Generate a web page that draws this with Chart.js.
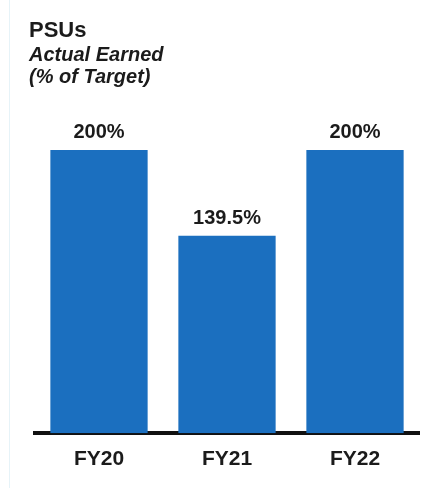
<!DOCTYPE html>
<html lang="en">
<head>
<meta charset="UTF-8">
<title>PSUs Actual Earned</title>
<script src="https://cdn.jsdelivr.net/npm/chart.js"></script>
<style>
    html, body {
        margin: 0;
        padding: 0;
        background: #ffffff;
    }
    .wrap {
        position: relative;
        width: 434px;
        height: 488px;
    }
    .wrap::before {
        content: "";
        position: absolute;
        left: 9px;
        top: 0;
        bottom: 0;
        border-left: 1px solid #e6f3f8;
    }
</style>
</head>
<body>
<div class="wrap">
    <canvas id="chart" width="434" height="488"></canvas>
</div>
<script>
    var categories = ["FY20", "FY21", "FY22"];
    var earned = [200, 139.5, 200];
    var valueLabels = ["200%", "139.5%", "200%"];

    var FONT = "'Liberation Sans', Arial, sans-serif";
    var INK = "#1b1b1b";

    // value labels above each bar
    var barValues = {
        id: 'barValues',
        afterDatasetsDraw: function (chart) {
            var ctx = chart.ctx;
            var meta = chart.getDatasetMeta(0);
            ctx.save();
            ctx.font = "bold 20px " + FONT;
            ctx.fillStyle = INK;
            ctx.textAlign = 'center';
            ctx.textBaseline = 'alphabetic';
            meta.data.forEach(function (bar, i) {
                ctx.fillText(valueLabels[i], bar.x, bar.y - 12);
            });
            ctx.restore();
        }
    };

    new Chart(document.getElementById('chart'), {
        type: 'bar',
        data: {
            labels: categories,
            datasets: [{
                data: earned,
                backgroundColor: '#1b6fbf',
                borderWidth: 0,
                categoryPercentage: 1,
                barPercentage: 0.76
            }]
        },
        options: {
            responsive: false,
            animation: false,
            layout: {
                padding: { left: 29, right: 15, top: 0, bottom: 3.5 }
            },
            plugins: {
                legend: { display: false },
                tooltip: { enabled: false },
                title: {
                    display: true,
                    text: 'PSUs',
                    align: 'start',
                    color: INK,
                    font: { family: FONT, size: 22, weight: 'bold', lineHeight: 1.2 },
                    padding: { top: 18, bottom: 0 }
                },
                subtitle: {
                    display: true,
                    text: ['Actual Earned', '(% of Target)'],
                    align: 'start',
                    color: INK,
                    font: { family: FONT, size: 20, weight: 'bold', style: 'italic', lineHeight: 1.1 },
                    padding: { top: 0, bottom: 5 }
                }
            },
            scales: {
                x: {
                    grid: { display: false, drawTicks: false },
                    border: { display: true, color: '#111111', width: 4 },
                    ticks: {
                        color: INK,
                        padding: 13,
                        font: { family: FONT, size: 21, weight: 'bold' }
                    }
                },
                y: {
                    min: 0,
                    max: 240,
                    grid: { display: false, drawTicks: false },
                    border: { display: false },
                    ticks: { display: false },
                    afterFit: function (scale) {
                        scale.width = 6;
                    }
                }
            }
        },
        plugins: [barValues]
    });
</script>
</body>
</html>
